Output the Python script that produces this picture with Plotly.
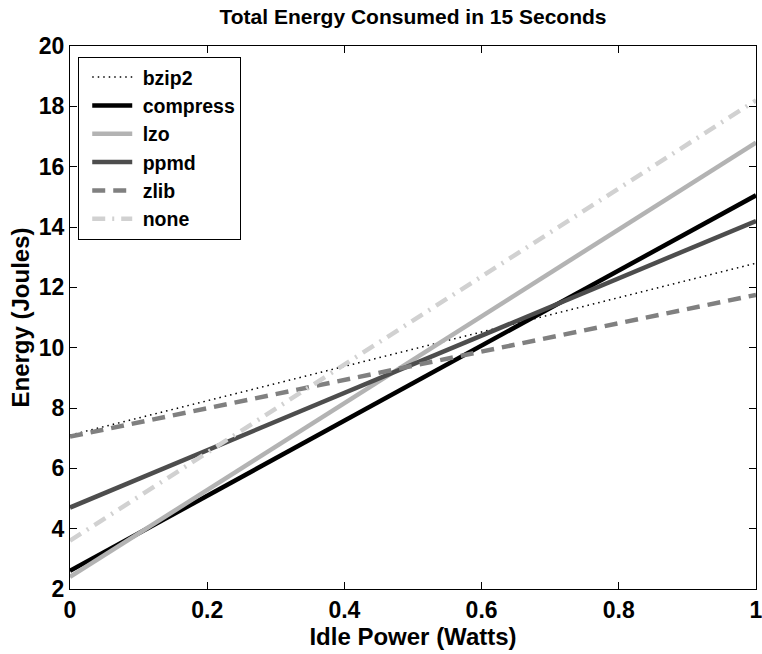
import plotly.graph_objects as go

# Idle power axis endpoints (Watts)
idle_power = [0.0, 1.0]

# Energy over 15 s at each idle power level (Joules)
series_names = ["bzip2", "compress", "lzo", "ppmd", "zlib", "none"]
energy_bzip2 = [7.1, 12.8]
energy_compress = [2.6, 15.05]
energy_lzo = [2.4, 16.8]
energy_ppmd = [4.7, 14.2]
energy_zlib = [7.05, 11.75]
energy_none = [3.6, 18.2]

energies = [energy_bzip2, energy_compress, energy_lzo, energy_ppmd, energy_zlib, energy_none]

styles = [
    dict(color="#000000", width=1.5, dash="1.5px,4px"),
    dict(color="#000000", width=4.5, dash="solid"),
    dict(color="#b3b3b3", width=4.5, dash="solid"),
    dict(color="#4d4d4d", width=4.5, dash="solid"),
    dict(color="#808080", width=4.5, dash="13px,8px"),
    dict(color="#d1d1d1", width=4.5, dash="13px,7px,2px,7px"),
]

fig = go.Figure()
for name, y, st in zip(series_names, energies, styles):
    fig.add_trace(go.Scatter(
        x=idle_power, y=y, mode="lines",
        name="\u00a0" + name,  # small gap between sample line and label
        line=st,
    ))

font = "Liberation Sans, Arial, sans-serif"
axis_common = dict(
    showline=True, linecolor="black", linewidth=1.3, mirror="ticks",
    ticks="inside", ticklen=7, tickwidth=1, tickcolor="black",
    showgrid=False, zeroline=False, automargin=False,
    tickfont=dict(family=font, size=23, color="black", weight="bold"),
)

fig.update_layout(
    width=762, height=654,
    margin=dict(l=70, r=6, t=46, b=65),
    paper_bgcolor="white", plot_bgcolor="white",
    title=dict(
        text="<b>Total Energy Consumed in 15 Seconds</b>",
        x=0.5, xanchor="center", xref="paper", y=1 - 17 / 654, yanchor="middle",
        font=dict(family=font, size=21, color="black"),
    ),
    xaxis=dict(
        range=[0, 1], tickvals=[0, 0.2, 0.4, 0.6, 0.8, 1],
        ticktext=["0", "0.2", "0.4", "0.6", "0.8", "1"],
        ticklabeloverflow="allow",
        title=dict(text="<b>Idle Power (Watts)</b>", standoff=0,
                   font=dict(family=font, size=24, color="black")),
        **axis_common,
    ),
    yaxis=dict(
        range=[2, 20], tickvals=list(range(2, 21, 2)),
        title=dict(text="<b>Energy (Joules)</b>", standoff=2,
                   font=dict(family=font, size=24, color="black")),
        **axis_common,
    ),
    legend=dict(
        x=0.012, y=0.98, xanchor="left", yanchor="top",
        bgcolor="white", bordercolor="black", borderwidth=1,
        font=dict(family=font, size=19.5, color="black", weight="bold"),
        itemwidth=40, indentation=8,
    ),
    showlegend=True,
)

fig.write_html("out.html")
